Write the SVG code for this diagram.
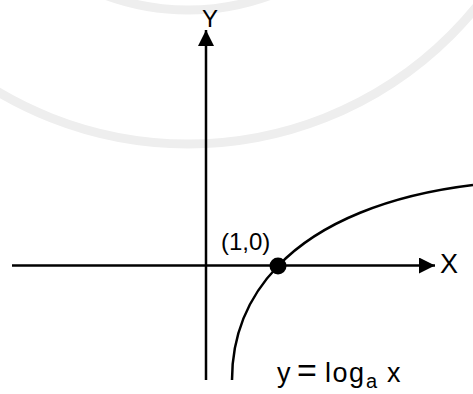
<svg xmlns="http://www.w3.org/2000/svg" width="473" height="394" viewBox="0 0 473 394">
<defs>
<style>
.ax{stroke:#000;stroke-width:2.5;fill:none}
.lbl{font-family:"Liberation Sans","Noto Sans",Arial,sans-serif;fill:#000}
.wm{fill:none;stroke:#eeeeee;stroke-width:9}
</style>
<marker id="arr" markerUnits="userSpaceOnUse" markerWidth="17" markerHeight="17" refX="16" refY="8" orient="auto">
<path d="M0,0 L16,8 L0,16 z" fill="#000"/>
</marker>
</defs>
<g id="watermark">
<circle class="wm" cx="188" cy="-228" r="372"/>
<circle class="wm" cx="188" cy="-228" r="238"/>
</g>
<g id="connectors">
<line class="ax" x1="206" y1="380" x2="206" y2="30" marker-end="url(#arr)"/>
<line class="ax" x1="12" y1="265.5" x2="435" y2="265.5" marker-end="url(#arr)"/>
<path class="ax" d="M232 380 C232 330 251 294 278 266 C320 222 390 195 473 185"/>
</g>
<g id="node-point">
<circle cx="278" cy="266" r="8.5" fill="#000"/>
<text class="lbl" x="221" y="250" font-size="24">(1,0)</text>
</g>
<g id="node-y-label"><text class="lbl" x="210" y="27" font-size="24" text-anchor="middle">Y</text></g>
<g id="node-x-label"><text class="lbl" x="440" y="273" font-size="27">X</text></g>
<g id="node-eq"><text class="lbl" y="382" font-size="27"><tspan x="277">y</tspan><tspan x="297" font-size="34">=</tspan><tspan x="325" letter-spacing="1.5">log</tspan><tspan x="366" dy="6" font-size="20">a</tspan><tspan x="387" dy="-6">x</tspan></text></g>
</svg>
